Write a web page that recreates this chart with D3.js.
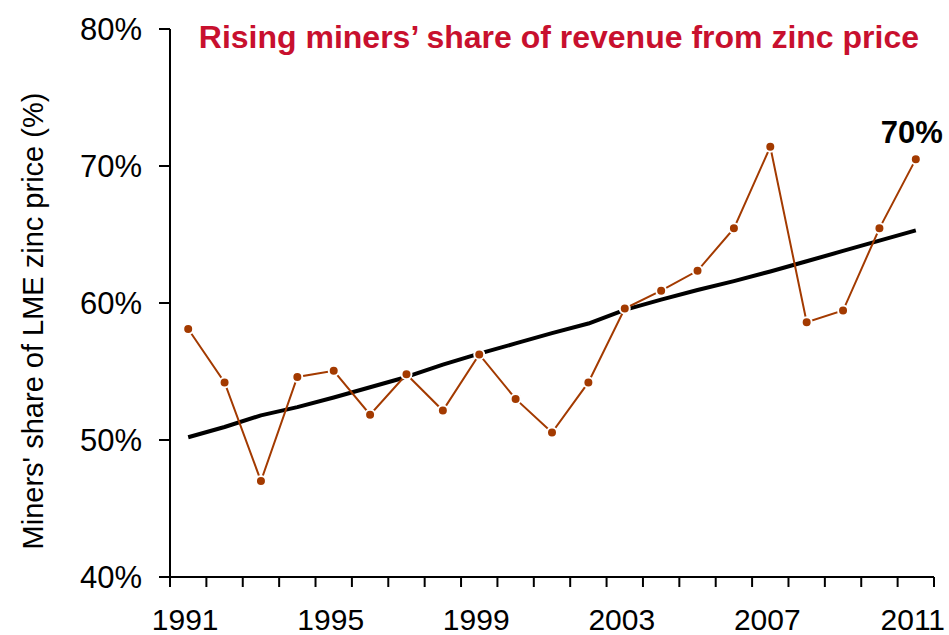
<!DOCTYPE html>
<html>
<head>
<meta charset="utf-8">
<script src="https://cdn.jsdelivr.net/npm/d3@7"></script>
<style>
  html, body { margin: 0; padding: 0; background: #fff; }
  svg { display: block; font-family: "Liberation Sans", Arial, sans-serif; }
</style>
</head>
<body>
<script>
// Miners' share of LME zinc price, 1991-2011
const years = d3.range(1991, 2012);
const share = [58.1, 54.2, 47.0, 54.6, 55.05, 51.85, 54.8, 52.15, 56.25, 53.0, 50.55,
  54.2, 59.6, 60.9, 62.35, 65.45, 71.4, 58.6, 59.45, 65.45, 70.5];
const trend = [50.2, 50.95, 51.8, 52.4, 53.1, 53.85, 54.6, 55.5, 56.3, 57.05, 57.8,
  58.5, 59.5, 60.25, 60.95, 61.6, 62.3, 63.05, 63.8, 64.55, 65.3];
const yTicks = [40, 50, 60, 70, 80];
const xLabelYears = [1991, 1995, 1999, 2003, 2007, 2011];
const title = 'Rising miners\u2019 share of revenue from zinc price';
const yTitle = "Miners' share of LME zinc price (%)";
const endLabel = '70%';

const W = 949, H = 635;
const margin = { top: 29, right: 15, bottom: 58, left: 170 };

const svg = d3.select('body').append('svg')
  .attr('width', W)
  .attr('height', H);

const x = d3.scaleBand()
  .domain(years)
  .range([margin.left, 934])
  .padding(0);

const y = d3.scaleLinear()
  .domain([40, 80])
  .range([577, margin.top]);

const cx = d => x(d) + x.bandwidth() / 2;

// y axis
svg.append('line')
  .attr('x1', margin.left).attr('x2', margin.left)
  .attr('y1', y(80)).attr('y2', y(40))
  .attr('stroke', '#000').attr('stroke-width', 2);

svg.append('g').selectAll('line')
  .data(yTicks)
  .join('line')
  .attr('x1', margin.left - 11).attr('x2', margin.left)
  .attr('y1', d => y(d)).attr('y2', d => y(d))
  .attr('stroke', '#000').attr('stroke-width', 2);

svg.append('g').selectAll('text')
  .data(yTicks)
  .join('text')
  .attr('x', 142)
  .attr('y', d => y(d))
  .attr('dy', '0.35em')
  .attr('text-anchor', 'end')
  .attr('font-size', 31)
  .text(d => d + '%');

// x axis
svg.append('line')
  .attr('x1', margin.left).attr('x2', 934)
  .attr('y1', y(40)).attr('y2', y(40))
  .attr('stroke', '#000').attr('stroke-width', 2);

const bounds = years.map(d => x(d)).concat([x(years[years.length - 1]) + x.bandwidth()]);
svg.append('g').selectAll('line')
  .data(bounds)
  .join('line')
  .attr('x1', d => d).attr('x2', d => d)
  .attr('y1', y(40)).attr('y2', y(40) + 10)
  .attr('stroke', '#000').attr('stroke-width', 2);

svg.append('g').selectAll('text')
  .data(xLabelYears)
  .join('text')
  .attr('x', d => cx(d) - 3)
  .attr('y', 630)
  .attr('text-anchor', 'middle')
  .attr('font-size', 30)
  .text(d => d);

// y axis title
svg.append('text')
  .attr('transform', `translate(43, ${(y(80) + y(40)) / 2 + 18}) rotate(-90)`)
  .attr('text-anchor', 'middle')
  .attr('font-size', 29)
  .text(yTitle);

// trend line
const line = d3.line()
  .x((d, i) => cx(years[i]))
  .y(d => y(d));

svg.append('path')
  .datum(trend)
  .attr('d', line)
  .attr('fill', 'none')
  .attr('stroke', '#000')
  .attr('stroke-width', 4)
  .attr('stroke-linejoin', 'round');

// share series
svg.append('path')
  .datum(share)
  .attr('d', line)
  .attr('fill', 'none')
  .attr('stroke', '#A33A00')
  .attr('stroke-width', 2);

svg.append('g').selectAll('circle')
  .data(share)
  .join('circle')
  .attr('cx', (d, i) => cx(years[i]))
  .attr('cy', d => y(d))
  .attr('r', 5)
  .attr('fill', '#A33A00')
  .attr('stroke', '#fff')
  .attr('stroke-width', 2);

// end label
svg.append('text')
  .attr('x', cx(years[years.length - 1]) + 27)
  .attr('y', y(share[share.length - 1]) - 16)
  .attr('text-anchor', 'end')
  .attr('font-size', 31)
  .attr('font-weight', 'bold')
  .text(endLabel);

// title
svg.append('text')
  .attr('x', 919)
  .attr('y', 48)
  .attr('text-anchor', 'end')
  .attr('font-size', 32)
  .attr('font-weight', 'bold')
  .attr('fill', '#C8102E')
  .text(title);
</script>
</body>
</html>
